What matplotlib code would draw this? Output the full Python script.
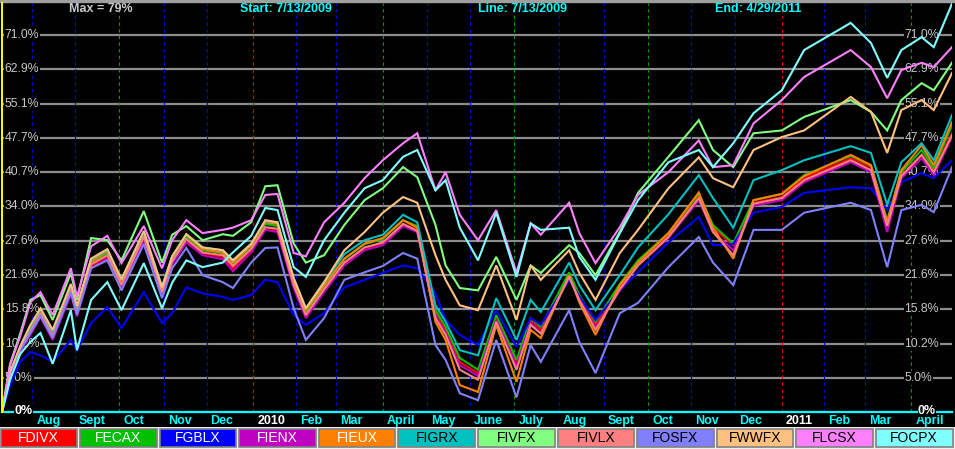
import matplotlib
matplotlib.use('Agg')
import matplotlib.pyplot as plt
import numpy as np
import pandas as pd

start_date = '2009-07-13'
end_date = '2011-04-29'

dates = ['2009-07-13', '2009-07-17', '2009-07-24', '2009-07-31', '2009-08-07', '2009-08-17',
         '2009-08-28', '2009-09-02', '2009-09-11', '2009-09-23', '2009-10-02', '2009-10-19',
         '2009-10-30', '2009-11-06', '2009-11-17', '2009-11-27', '2009-12-11', '2009-12-18',
         '2009-12-31', '2010-01-11', '2010-01-19', '2010-01-29', '2010-02-08', '2010-02-19',
         '2010-03-05', '2010-03-19', '2010-04-01', '2010-04-15', '2010-04-26', '2010-05-07',
         '2010-05-14', '2010-05-25', '2010-06-07', '2010-06-18', '2010-07-02', '2010-07-13',
         '2010-07-20', '2010-08-09', '2010-08-16', '2010-08-26', '2010-09-13', '2010-09-24',
         '2010-10-15', '2010-11-05', '2010-11-16', '2010-11-30', '2010-12-14', '2011-01-03',
         '2011-01-18', '2011-02-18', '2011-03-04', '2011-03-16', '2011-03-25', '2011-04-08',
         '2011-04-18', '2011-04-29']

# cumulative return in percent
fdivx = [0, 5.3, 9.2, 11.9, 14.8, 11.1, 18.6, 15.0, 23.1, 24.8, 19.6, 28.1, 18.4, 23.7, 27.7, 25.4,
         24.7, 22.7, 25.9, 30.0, 29.6, 19.6, 14.6, 18.9, 23.6, 26.3, 27.1, 30.7, 29.6, 15.1, 12.4, 7.4,
         5.7, 14.3, 7.4, 14.0, 12.4, 21.5, 17.6, 13.2, 19.4, 23.7, 28.7, 35.8, 30.0, 26.8, 34.7, 35.8,
         39.5, 43.5, 41.7, 31.0, 40.1, 44.2, 41.1, 48.7]
fecax = [0, 5.4, 9.5, 12.4, 15.3, 11.6, 19.1, 15.4, 23.7, 25.4, 20.0, 28.7, 18.9, 24.3, 28.3, 25.9,
         25.4, 23.4, 26.6, 30.7, 30.3, 20.3, 15.3, 19.6, 24.3, 27.0, 27.9, 31.4, 30.3, 15.6, 12.9, 8.0,
         6.2, 14.8, 7.7, 14.3, 12.9, 22.0, 18.1, 13.7, 20.0, 24.1, 29.0, 36.4, 30.5, 27.1, 35.2, 36.4,
         40.1, 44.0, 42.1, 31.4, 40.7, 45.2, 41.5, 50.4]
fgblx = [0, 3.8, 7.4, 8.9, 8.4, 7.4, 10.8, 9.2, 13.5, 16.1, 12.7, 18.6, 13.5, 15.1, 19.4, 18.4,
         17.8, 17.3, 18.1, 20.7, 20.3, 14.8, 13.2, 15.1, 19.4, 20.7, 21.9, 23.2, 22.7, 18.4, 14.0, 11.6,
         10.0, 15.6, 9.7, 14.3, 13.2, 20.7, 17.9, 14.0, 18.9, 22.0, 27.3, 32.0, 26.8, 27.0, 32.8, 33.9,
         36.6, 37.7, 37.5, 33.3, 38.7, 40.5, 39.5, 43.1]
fienx = [0, 5.1, 9.0, 11.6, 14.5, 10.8, 18.2, 14.6, 22.7, 24.4, 19.3, 27.5, 18.1, 23.4, 27.3, 25.0,
         24.3, 22.2, 25.5, 29.6, 29.2, 19.3, 14.3, 18.6, 23.2, 25.9, 26.8, 30.3, 29.2, 14.6, 11.9, 6.9,
         5.3, 14.0, 6.8, 13.5, 11.9, 21.2, 17.3, 12.7, 18.9, 23.2, 28.1, 35.2, 29.2, 25.9, 34.1, 35.2,
         38.7, 42.7, 40.7, 29.2, 39.5, 43.5, 40.1, 47.9]
fieux = [0, 5.6, 9.7, 12.7, 15.6, 11.9, 19.4, 15.6, 23.9, 25.7, 20.5, 29.0, 19.3, 24.7, 28.7, 26.1,
         25.5, 23.7, 26.8, 31.0, 30.7, 20.7, 15.6, 19.8, 24.4, 27.1, 28.1, 31.4, 30.0, 13.7, 10.8, 3.9,
         2.9, 13.2, 4.4, 12.4, 11.1, 21.5, 16.9, 11.6, 19.8, 23.7, 29.0, 36.7, 30.0, 24.4, 35.2, 36.4,
         39.9, 44.2, 42.1, 31.0, 41.1, 46.2, 42.1, 51.1]
figrx = [0, 5.7, 9.7, 12.9, 15.8, 12.1, 19.8, 15.9, 24.3, 25.9, 20.8, 29.2, 19.6, 24.8, 28.8, 26.4,
         25.9, 24.1, 27.1, 31.2, 31.0, 21.0, 15.9, 20.3, 25.2, 27.7, 28.7, 32.4, 31.0, 16.4, 13.7, 9.2,
         8.4, 17.6, 10.8, 17.3, 15.3, 23.7, 19.8, 15.6, 21.5, 26.4, 32.5, 40.1, 35.6, 30.0, 39.1, 41.1,
         43.1, 46.0, 44.6, 34.3, 42.7, 46.6, 43.1, 52.6]
fivfx = [0, 7.1, 11.8, 17.3, 18.1, 14.0, 21.9, 17.3, 28.1, 27.7, 24.1, 33.1, 23.7, 28.7, 30.3, 27.7,
         28.8, 28.5, 31.0, 37.9, 38.1, 27.1, 23.7, 25.0, 30.5, 35.2, 37.5, 41.7, 39.7, 30.5, 23.2, 19.3,
         18.9, 24.7, 17.3, 23.2, 21.9, 26.8, 25.4, 21.5, 29.2, 36.6, 43.8, 51.5, 45.2, 41.7, 48.7, 49.3,
         52.2, 55.9, 53.3, 49.3, 55.9, 59.7, 58.1, 64.4]
fivlx = [0, 5.4, 9.4, 12.1, 15.1, 11.4, 18.9, 15.1, 23.4, 25.0, 19.8, 28.3, 18.6, 23.9, 27.9, 25.5,
         25.0, 23.1, 26.1, 30.1, 29.8, 19.8, 14.8, 19.1, 23.7, 26.4, 27.3, 30.7, 29.4, 14.3, 11.6, 6.2,
         4.7, 13.7, 6.2, 13.2, 11.8, 21.2, 17.3, 12.4, 19.1, 23.2, 28.3, 35.6, 29.2, 25.0, 34.5, 35.6,
         39.1, 43.1, 41.1, 30.3, 39.9, 44.2, 40.7, 48.3]
fosfx = [0, 5.3, 9.2, 11.9, 14.6, 11.1, 18.6, 14.8, 22.7, 24.1, 18.9, 27.0, 17.6, 22.7, 26.3, 21.5,
         20.3, 19.3, 23.7, 26.3, 26.4, 15.9, 10.8, 14.3, 20.7, 22.0, 23.1, 25.4, 24.4, 10.0, 7.7, 2.7,
         1.7, 10.8, 2.1, 10.0, 7.4, 15.6, 10.5, 5.7, 15.1, 16.8, 22.9, 28.3, 23.7, 19.8, 29.6, 29.6,
         32.8, 34.7, 33.3, 22.9, 33.3, 34.3, 32.9, 41.7]
fwwfx = [0, 5.9, 9.8, 13.2, 15.9, 12.4, 20.0, 16.3, 24.4, 26.1, 20.8, 29.4, 19.4, 24.8, 28.8, 26.4,
         25.9, 24.1, 27.0, 31.4, 31.0, 21.0, 15.9, 20.3, 25.9, 29.2, 32.8, 35.8, 34.7, 25.0, 20.7, 16.4,
         15.6, 23.2, 14.0, 23.2, 20.7, 25.9, 21.9, 17.3, 25.4, 29.6, 37.5, 43.7, 39.5, 37.7, 45.2, 47.9,
         49.3, 56.6, 53.3, 44.6, 53.7, 55.9, 53.7, 62.0]
flcsx = [0, 6.9, 11.4, 16.9, 18.6, 14.8, 22.7, 17.8, 26.6, 28.5, 23.6, 30.3, 22.7, 27.7, 31.4, 29.0,
         29.6, 30.0, 31.4, 36.2, 36.4, 25.4, 24.8, 31.0, 34.7, 39.5, 43.1, 46.6, 48.7, 37.1, 40.7, 32.4,
         27.7, 33.3, 21.9, 30.8, 28.7, 34.7, 29.0, 23.6, 30.1, 36.2, 40.7, 47.2, 41.7, 42.1, 50.8, 55.9,
         61.1, 67.4, 63.4, 56.3, 62.7, 64.4, 63.4, 68.1]
focpx = [0, 4.7, 8.6, 10.5, 11.9, 7.1, 15.6, 9.2, 17.3, 20.3, 15.6, 23.6, 15.9, 20.2, 24.1, 22.9,
         23.7, 25.5, 28.5, 33.7, 33.3, 22.9, 21.2, 27.7, 32.8, 37.5, 39.1, 43.8, 45.2, 37.1, 39.1, 30.0,
         24.1, 32.8, 21.2, 30.8, 29.6, 30.0, 24.7, 20.7, 29.0, 35.2, 42.7, 45.2, 41.7, 46.6, 53.0, 58.1,
         67.4, 74.0, 69.1, 60.9, 67.4, 70.5, 68.1, 78.8]

funds = ['FDIVX', 'FECAX', 'FGBLX', 'FIENX', 'FIEUX', 'FIGRX',
         'FIVFX', 'FIVLX', 'FOSFX', 'FWWFX', 'FLCSX', 'FOCPX']
series = [fdivx, fecax, fgblx, fienx, fieux, figrx, fivfx, fivlx, fosfx, fwwfx, flcsx, focpx]
colors = ['#ff0000', '#00c000', '#0000ff', '#c000c0', '#ff8000', '#00c0c0',
          '#80ff80', '#ff8080', '#8080ff', '#ffc080', '#ff80ff', '#80ffff']
text_colors = ['white'] * 5 + ['black'] * 7

grid_levels = [5.0, 10.2, 15.8, 21.6, 27.6, 34.0, 40.7, 47.7, 55.1, 62.9, 71.0]
month_labels = ['Aug', 'Sept', 'Oct', 'Nov', 'Dec', '2010', 'Feb', 'Mar', 'April', 'May', 'June',
                'July', 'Aug', 'Sept', 'Oct', 'Nov', 'Dec', '2011', 'Feb', 'Mar', 'April']
max_pct = 79

W, H = 955, 449
FONT = 'Liberation Sans'

fig = plt.figure(figsize=(W / 100, H / 100), dpi=100, facecolor='black')
ax = fig.add_axes([2 / W, (H - 412) / H, 950 / W, 409 / H])
ax.set_facecolor('black')
ax.set_yscale('log')
ax.set_ylim(1.0, 1 + max_pct / 100)

days = pd.bdate_range(start_date, end_date)
ax.set_xlim(0, len(days) - 1)
ax.axis('off')

xs = days.searchsorted(pd.to_datetime(dates))

# horizontal grid lines + percent labels on both sides
ytrans = ax.get_yaxis_transform()
for lvl in grid_levels:
    ax.axhline(1 + lvl / 100, color='#8c8c8c', lw=1.6, zorder=1)
    for xa in (0.003, 0.950):
        ax.text(xa, 1 + lvl / 100, f'{lvl:.1f}%', transform=ytrans, ha='left', va='center',
                color='#c8c8c8', fontsize=8.8, family=FONT, zorder=2,
                bbox=dict(facecolor='black', edgecolor='none', pad=0.6))

# month separators and labels
month_starts = [i for i in range(1, len(days)) if days[i].month != days[i - 1].month]
xtrans = ax.get_xaxis_transform()
for i, lab in zip(month_starts, month_labels):
    m = days[i].month
    c = '#e00000' if m == 1 else ('#00a000' if m in (4, 7, 10) else '#0000e0')
    ax.axvline(i, color=c, lw=0.8, ls=(0, (3, 3)), zorder=1)
    ax.annotate(lab, xy=(i, 0), xycoords=xtrans, xytext=(4, -9), textcoords='offset pixels',
                ha='left', va='center', color='white' if m == 1 else '#00ffff',
                fontsize=9, fontweight='bold', family=FONT, annotation_clip=False)

# fund lines
for vals, col in zip(series, colors):
    ax.plot(xs, 1 + np.array(vals) / 100, color=col, lw=1.5, zorder=3, solid_joinstyle='miter')

# zero line, start line
ax.axhline(1.0, color='#00ffff', lw=1.6, zorder=4, clip_on=False)
ax.axvline(0, color='#ffff00', lw=1.4, zorder=4, clip_on=False)
for xa in (0.013, 0.964):
    ax.text(xa, 1.002, '0%', transform=ytrans, ha='left', va='center', color='white',
            fontsize=9, fontweight='bold', family=FONT, zorder=5, clip_on=False,
            bbox=dict(facecolor='black', edgecolor='none', pad=0.2))

# header
header = [(69, f'Max = {max_pct}%', '#c8c8c8'), (240, 'Start: 7/13/2009', '#00ffff'),
          (478, 'Line: 7/13/2009', '#00ffff'), (715, 'End: 4/29/2011', '#00ffff')]
for px, s, c in header:
    fig.text(px / W, 1 - 9 / H, s, color=c, fontsize=9, fontweight='bold', family=FONT,
             ha='left', va='center')
fig.add_artist(plt.Rectangle((0, 1 - 2 / H), 1, 2 / H, transform=fig.transFigure,
                             color='#a0a0a0', zorder=0))

# legend buttons
fig.add_artist(plt.Rectangle((0, 0), 1, 22 / H, transform=fig.transFigure,
                             facecolor='#eeeeee', edgecolor='none'))
bw = W / len(funds)
for k, (name, col, tc) in enumerate(zip(funds, colors, text_colors)):
    x0 = k * bw + 0.5
    fig.add_artist(plt.Rectangle((x0 / W, 2 / H), (bw - 3) / W, 18 / H, transform=fig.transFigure,
                                 facecolor=col, edgecolor='#808080', lw=1.2))
    fig.text((x0 + (bw - 3) / 2) / W, 11 / H, name, color=tc, fontsize=10, family=FONT,
             ha='center', va='center')

fig.savefig('out.png', dpi=100, facecolor='black')
